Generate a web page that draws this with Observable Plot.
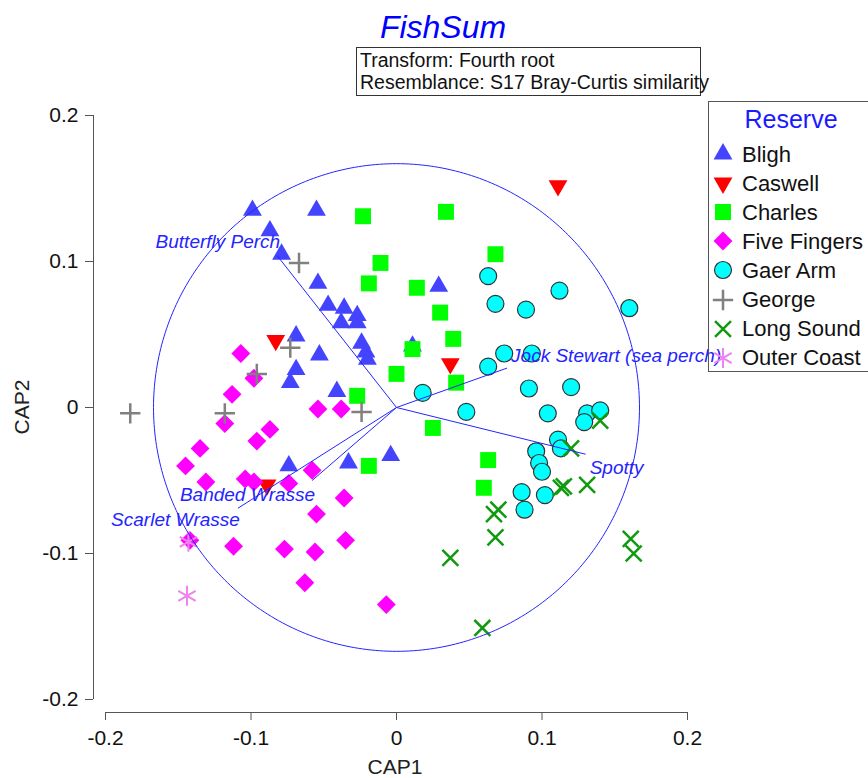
<!DOCTYPE html>
<html><head><meta charset="utf-8">
<script src="https://cdn.jsdelivr.net/npm/d3@7"></script>
<script src="https://cdn.jsdelivr.net/npm/@observablehq/plot@0.6"></script>
<style>
body{margin:0;background:#fff;font-family:"Liberation Sans",Arial,sans-serif;}
#wrap{position:relative;width:868px;height:778px;overflow:hidden;background:#fff;}
#wrap svg.plot{position:absolute;left:0;top:0;}
.abs{position:absolute;white-space:nowrap;}
</style></head><body><div id="wrap"></div>
<script>
// ---------- data ----------
const reserves = ["Bligh","Caswell","Charles","Five Fingers","Gaer Arm","George","Long Sound","Outer Coast"];
const bligh = [[-0.099,0.135],[-0.055,0.135],[-0.087,0.121],[-0.079,0.105],[-0.054,0.085],[-0.047,0.070],[-0.036,0.068],[-0.038,0.058],[-0.027,0.063],[-0.027,0.058],[-0.024,0.044],[-0.021,0.038],[-0.020,0.033],[-0.069,0.049],[-0.053,0.036],[-0.069,0.026],[-0.073,0.017],[-0.041,0.011],[-0.074,-0.040],[-0.033,-0.038],[-0.004,-0.033],[0.029,0.083],[0.011,0.042]];
const caswell = [[0.111,0.152],[0.037,0.030],[-0.083,0.046],[-0.089,-0.053]];
const charles = [[-0.023,0.131],[0.034,0.134],[-0.011,0.099],[0.068,0.105],[-0.019,0.085],[0.014,0.082],[0.030,0.065],[0.039,0.047],[0.011,0.040],[0.000,0.023],[0.041,0.017],[-0.027,0.008],[-0.019,-0.040],[0.025,-0.014],[0.063,-0.036],[0.060,-0.055]];
const fiveFingers = [[-0.107,0.037],[-0.098,0.020],[-0.113,0.009],[-0.054,-0.001],[-0.038,-0.001],[-0.118,-0.011],[-0.087,-0.015],[-0.096,-0.023],[-0.135,-0.028],[-0.145,-0.040],[-0.131,-0.051],[-0.104,-0.049],[-0.098,-0.051],[-0.074,-0.052],[-0.058,-0.043],[-0.036,-0.062],[-0.055,-0.073],[-0.142,-0.091],[-0.112,-0.095],[-0.077,-0.097],[-0.056,-0.099],[-0.035,-0.091],[-0.063,-0.120],[-0.007,-0.135]];
const gaerArm = [[0.063,0.090],[0.068,0.071],[0.089,0.067],[0.112,0.080],[0.160,0.068],[0.074,0.037],[0.093,0.037],[0.063,0.028],[0.018,0.010],[0.091,0.013],[0.120,0.014],[0.048,-0.003],[0.104,-0.004],[0.131,-0.004],[0.140,-0.002],[0.129,-0.010],[0.111,-0.022],[0.113,-0.028],[0.096,-0.030],[0.098,-0.038],[0.100,-0.044],[0.086,-0.058],[0.102,-0.060],[0.088,-0.070]];
const george = [[-0.067,0.099],[-0.073,0.041],[-0.096,0.023],[-0.183,-0.004],[-0.118,-0.004],[-0.024,-0.003]];
const longSound = [[0.140,-0.009],[0.120,-0.028],[0.115,-0.054],[0.113,-0.055],[0.131,-0.053],[0.067,-0.073],[0.070,-0.070],[0.068,-0.089],[0.037,-0.103],[0.161,-0.090],[0.163,-0.100],[0.059,-0.151]];
const outerCoast = [[-0.143,-0.092],[-0.144,-0.129]];
const seriesData = [bligh, caswell, charles, fiveFingers, gaerArm, george, longSound, outerCoast];

const vectorNames = ["Butterfly Perch","Jock Stewart (sea perch)","Spotty","Banded Wrasse","Scarlet Wrasse"];
const vectorCap1 = [-0.082, 0.076, 0.130, -0.058, -0.109];
const vectorCap2 = [0.104, 0.027, -0.032, -0.050, -0.069];
const circleRadius = 0.167;

const xTicks = [-0.2,-0.1,0,0.1,0.2];
const xTickLabels = ["-0.2","-0.1","0","0.1","0.2"];
const yTicks = [-0.2,-0.1,0,0.1,0.2];
const yTickLabels = ["-0.2","-0.1","0","0.1","0.2"];

const titleText = "FishSum";
const infoLines = ["Transform: Fourth root","Resemblance: S17 Bray-Curtis similarity"];
const legendTitle = "Reserve";
const xLabel = "CAP1", yLabel = "CAP2";

// ---------- styles ----------
const FONT = '"Liberation Sans", Arial, sans-serif';
const BLUE = "#2424ff";
const triangleDown = {draw(context, size){
  const y = -Math.sqrt(size / (Math.sqrt(3) * 3));
  context.moveTo(0, -y * 2);
  context.lineTo(-Math.sqrt(3) * y, y);
  context.lineTo(Math.sqrt(3) * y, y);
  context.closePath();
}};
const styles = [
  {symbol: d3.symbolTriangle, fill: "#4444ff", stroke: "none", r: 7},
  {symbol: triangleDown, fill: "#ff0000", stroke: "none", r: 7},
  {symbol: d3.symbolSquare, fill: "#00ff00", stroke: "none", r: 9},
  {symbol: d3.symbolDiamond2, fill: "#ff00ff", stroke: "none", r: 8.5},
  {symbol: d3.symbolCircle, fill: "#00ffff", stroke: "#333", strokeWidth: 1.2, r: 8.5},
  {symbol: d3.symbolPlus, fill: "none", stroke: "#808080", strokeWidth: 2.5, r: 6.6},
  {symbol: d3.symbolTimes, fill: "none", stroke: "#109a10", strokeWidth: 2.5, r: 7.3},
  {symbol: d3.symbolAsterisk, fill: "none", stroke: "#ee82ee", strokeWidth: 2, r: 9.5}
];
const labelPlacement = {
  "Butterfly Perch": {textAnchor: "end", dx: 3, dy: -14},
  "Jock Stewart (sea perch)": {textAnchor: "start", dx: 4, dy: -12},
  "Spotty": {textAnchor: "start", dx: 4, dy: 14},
  "Banded Wrasse": {textAnchor: "end", dx: 3, dy: 14},
  "Scarlet Wrasse": {textAnchor: "end", dx: 2, dy: 12}
};

const vectors = vectorNames.map((name, i) => ({name, x: vectorCap1[i], y: vectorCap2[i]}));
const circlePts = d3.range(0, 361).map(a => [circleRadius * Math.cos(a * Math.PI / 180), circleRadius * Math.sin(a * Math.PI / 180)]);

const dotMarks = seriesData.map((pts, i) => Plot.dot(pts, {
  x: d => d[0], y: d => d[1],
  symbol: styles[i].symbol, fill: styles[i].fill, stroke: styles[i].stroke,
  strokeWidth: styles[i].strokeWidth || 1, r: styles[i].r
}));
const labelMarks = vectors.map(v => Plot.text([v], {
  x: "x", y: "y", text: "name", fill: BLUE, fontStyle: "italic", fontSize: 19,
  ...labelPlacement[v.name]
}));

const plot = Plot.plot({
  width: 868, height: 778,
  marginLeft: 105, marginRight: 181, marginTop: 115, marginBottom: 79,
  x: {domain: [-0.2, 0.2]},
  y: {domain: [-0.2, 0.2]},
  style: {fontFamily: FONT, fontSize: "21px", color: "#111", background: "transparent", overflow: "visible"},
  marks: [
    Plot.ruleX([-0.2], {y1: -0.2, y2: 0.2, dx: -12, stroke: "#555"}),
    Plot.ruleY([-0.2], {x1: -0.2, x2: 0.2, dy: 13, stroke: "#555"}),
    Plot.axisX({ticks: xTicks, tickFormat: d => xTickLabels[xTicks.indexOf(d)], tickSize: 8, dy: 13, tickPadding: 10, fontSize: 21, label: null, stroke: "#555", fill: "#111"}),
    Plot.axisY({ticks: yTicks, tickFormat: d => yTickLabels[yTicks.indexOf(d)], tickSize: 8, dx: -12, tickPadding: 7, fontSize: 21, label: null, stroke: "#555", fill: "#111"}),
    ...dotMarks,
    Plot.line(circlePts, {x: d => d[0], y: d => d[1], stroke: BLUE, strokeWidth: 1}),
    Plot.link(vectors, {x1: 0, y1: 0, x2: "x", y2: "y", stroke: BLUE, strokeWidth: 1}),
    ...labelMarks
  ]
});
plot.classList.add("plot");
const wrap = document.getElementById("wrap");
wrap.appendChild(plot);

function addDiv(text, css){
  const d = document.createElement("div");
  d.className = "abs"; d.textContent = text; d.style.cssText += css;
  wrap.appendChild(d); return d;
}
// title + info box
addDiv(titleText, "left:343px;top:8px;width:200px;text-align:center;font-size:32px;font-style:italic;color:#0000ff;line-height:38px;");
const box = document.createElement("div");
box.className = "abs";
box.style.cssText = "left:356px;top:47px;width:343px;height:47px;border:1px solid #333;";
wrap.appendChild(box);
infoLines.forEach((t, i) => addDiv(t, `left:360px;top:${49 + i*22}px;font-size:19.5px;line-height:22px;color:#111;`));
// axis titles
addDiv(xLabel, "left:345px;top:755px;width:100px;text-align:center;font-size:21px;line-height:24px;color:#222;");
addDiv(yLabel, "left:-28px;top:395px;width:100px;text-align:center;font-size:21px;line-height:24px;color:#222;transform:rotate(-90deg);");

// legend
const lg = document.createElement("div");
lg.className = "abs";
lg.style.cssText = "left:708px;top:101px;width:170px;height:269px;border:1px solid #555;";
wrap.appendChild(lg);
addDiv(legendTitle, "left:708px;top:104px;width:166px;text-align:center;font-size:25px;line-height:30px;color:#1a1aff;");
reserves.forEach((name, i) => {
  const cy = 154 + i * 29.1;
  const st = styles[i];
  const svg = d3.create("svg").attr("width", 30).attr("height", 30)
    .style("position", "absolute").style("left", "708px").style("top", (cy - 15) + "px").style("overflow", "visible");
  svg.append("path")
    .attr("transform", "translate(15,15)")
    .attr("d", d3.symbol(st.symbol, Math.PI * st.r * st.r)())
    .attr("fill", st.fill).attr("stroke", st.stroke).attr("stroke-width", st.strokeWidth || 1);
  wrap.appendChild(svg.node());
  addDiv(name, `left:742px;top:${cy - 11.5}px;font-size:22px;line-height:24px;color:#111;`);
});
</script>
</body></html>
